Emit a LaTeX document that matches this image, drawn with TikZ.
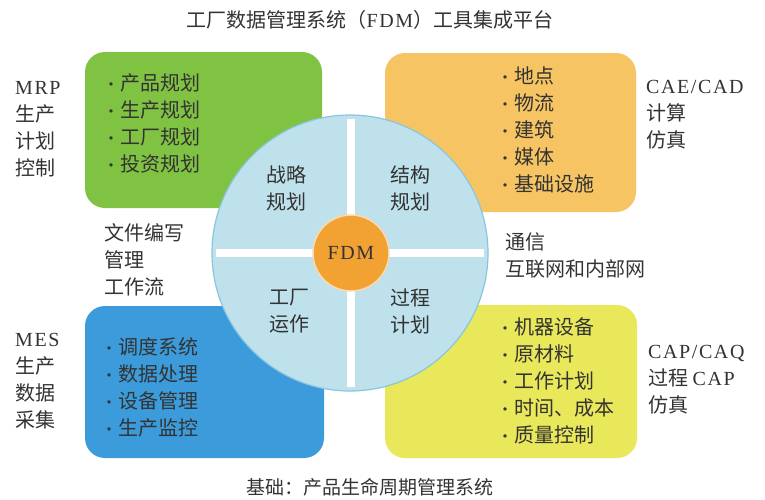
\documentclass[tikz,border=0pt]{standalone}
\usepackage{fontspec}
\setmainfont{Noto Sans CJK SC}
\newfontfamily\lat[LetterSpace=8]{Liberation Serif}
\usetikzlibrary{calc}
\definecolor{txt}{HTML}{333333}
\definecolor{gbox}{HTML}{80C242}
\definecolor{obox}{HTML}{F6C462}
\definecolor{bbox}{HTML}{3C9BDB}
\definecolor{ybox}{HTML}{E9E75A}
\definecolor{circ}{HTML}{BEE1EC}
\definecolor{circedge}{HTML}{88C6DF}
\definecolor{fdmc}{HTML}{F2A233}
\newcommand\bul{{\fontsize{16}{16}\selectfont\textbullet}\hspace{1pt}}
\begin{document}
\begin{tikzpicture}[x=1pt,y=-1pt,
  every node/.style={text=txt, inner sep=0pt},
  lbl/.style={font=\fontsize{20}{27}\selectfont, align=left},
  clbl/.style={font=\fontsize{20}{27}\selectfont, align=center},
  panel/.style={rectangle, rounded corners=20pt, minimum width=#1, minimum height=156pt},
  whiteline/.style={draw=white, line width=8pt}]
\useasboundingbox (0,0) rectangle (765,499);
\fill[white] (0,0) rectangle (765,499);
% panels
\node[panel=237pt, fill=gbox] (g) at (203.5,130) {};
\node[panel=251pt, fill=obox, minimum height=159pt] (o) at (510.5,132.5) {};
\node[panel=239pt, fill=bbox, minimum height=152pt] (b) at (204.5,382) {};
\node[panel=252pt, fill=ybox, minimum height=153pt] (y) at (511,381.5) {};
% central circle
\node[circle, minimum size=276pt, fill=circ, draw=circedge, line width=1.2pt] (big) at (350,253) {};
\coordinate (hl) at ($(big.west)+(5,0)$);
\coordinate (hr) at ($(big.east)+(-5,0)$);
\coordinate (vt) at ($(big.north)+(1,5)$);
\coordinate (vb) at ($(big.south)+(1,-5)$);
\draw[whiteline] (hl) -- (hr);
\draw[whiteline] (vt) -- (vb);
\node[circle, minimum size=76pt, fill=fdmc, draw=white!60!fdmc, line width=1.5pt,
      font=\fontsize{20}{24}\selectfont\lat] (fdm) at (351,253) {FDM};
% circle labels
\node[clbl] (q1) at (286,188) {战略\\规划};
\node[clbl] (q2) at (410,188) {结构\\规划};
\node[clbl] (q3) at (289,311) {工厂\\运作};
\node[clbl] (q4) at (410,311) {过程\\计划};
% lists
\node[lbl, anchor=west] (gl) at (103,123) {\bul 产品规划\\\bul 生产规划\\\bul 工厂规划\\\bul 投资规划};
\node[lbl, anchor=west] (ol) at (497,130) {\bul 地点\\\bul 物流\\\bul 建筑\\\bul 媒体\\\bul 基础设施};
\node[lbl, anchor=west] (bl) at (101,387) {\bul 调度系统\\\bul 数据处理\\\bul 设备管理\\\bul 生产监控};
\node[lbl, anchor=west] (yl) at (497,381) {\bul 机器设备\\\bul 原材料\\\bul 工作计划\\\bul 时间、成本\\\bul 质量控制};
% side labels
\node[lbl, anchor=west] (mrp) at (15,129) {{\lat MRP}\\生产\\计划\\控制};
\node[lbl, anchor=west] (cae) at (646,115) {{\lat CAE/CAD}\\计算\\仿真};
\node[lbl, anchor=west] (doc) at (104,260) {文件编写\\管理\\工作流};
\node[lbl, anchor=west] (com) at (505,255) {通信\\互联网和内部网};
\node[lbl, anchor=west] (mes) at (15,381) {{\lat MES}\\生产\\数据\\采集};
\node[lbl, anchor=west] (cap) at (648,380) {{\lat CAP/CAQ}\\过程 {\lat CAP}\\仿真};
% title and footer
\node[font=\fontsize{20}{24}\selectfont] (title) at (370,20) {工厂数据管理系统（{\lat FDM}）工具集成平台};
\node[font=\fontsize{19}{22}\selectfont] (foot) at (370,487) {基础：产品生命周期管理系统};
\end{tikzpicture}
\end{document}
